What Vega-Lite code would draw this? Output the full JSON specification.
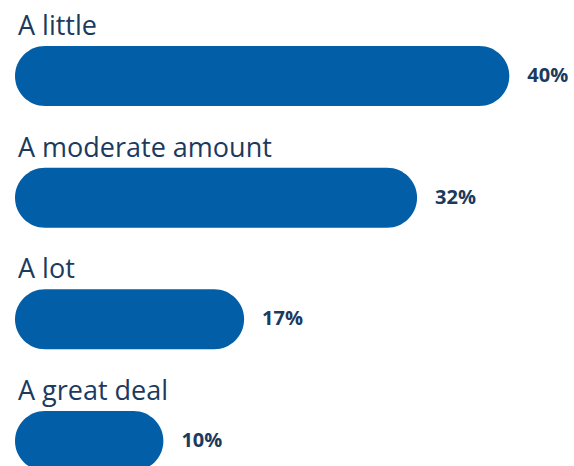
{
  "$schema": "https://vega.github.io/schema/vega-lite/v6.json",
  "width": 574,
  "height": 517,
  "autosize": "none",
  "padding": 0,
  "background": "white",
  "config": {"view": {"stroke": null}},
  "data": {
    "values": [
      {"category": "A little", "value": 40, "label": "40%"},
      {"category": "A moderate amount", "value": 32, "label": "32%"},
      {"category": "A lot", "value": 17, "label": "17%"},
      {"category": "A great deal", "value": 10, "label": "10%"}
    ]
  },
  "encoding": {
    "y": {
      "field": "category",
      "type": "nominal",
      "sort": null,
      "scale": {"type": "point", "padding": 0.625},
      "axis": null
    }
  },
  "layer": [
    {
      "mark": {"type": "bar", "height": 60, "cornerRadius": 30, "color": "#035ea8"},
      "encoding": {
        "x": {"field": "value", "type": "quantitative", "scale": {"domain": [-4.17, 45.61], "nice": false, "zero": false}, "axis": null},
        "x2": {"datum": -2.87}
      }
    },
    {
      "mark": {"type": "text", "align": "left", "baseline": "middle", "dx": 18, "font": "Open Sans", "fontSize": 20, "fontWeight": "bold", "color": "#1b3a5e"},
      "encoding": {
        "x": {"field": "value", "type": "quantitative"},
        "text": {"field": "label"}
      }
    },
    {
      "mark": {"type": "text", "align": "left", "baseline": "alphabetic", "dy": -41, "font": "Open Sans", "fontSize": 27, "color": "#1b3a5e"},
      "encoding": {
        "x": {"datum": -2.61},
        "text": {"field": "category"}
      }
    }
  ]
}
